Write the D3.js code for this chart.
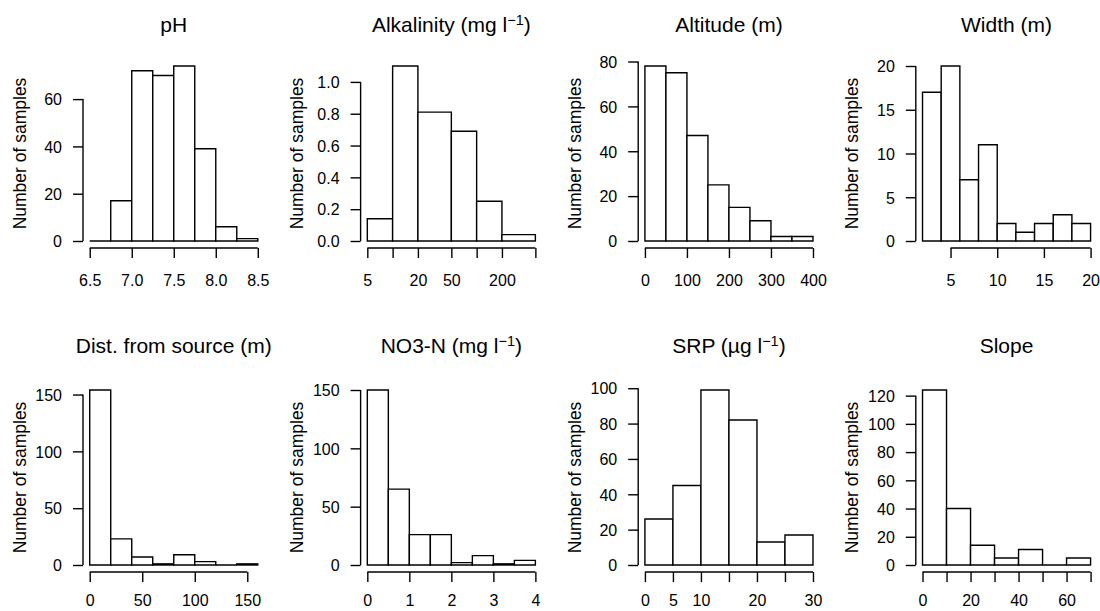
<!DOCTYPE html>
<html>
<head>
<meta charset="utf-8">
<script src="https://cdn.jsdelivr.net/npm/d3@7"></script>
<style>
  body { margin: 0; background: #fff; }
  svg { display: block; }
  text { font-family: "Liberation Sans", Arial, Helvetica, sans-serif; fill: #000; }
</style>
</head>
<body>
<svg id="chart" width="1100" height="611"></svg>
<script>
// ---- Histogram data: bin edges, bar heights and axis ticks per variable ----
const phBreaks = [6.5, 6.75, 7.0, 7.25, 7.5, 7.75, 8.0, 8.25, 8.5];
const phCounts = [0, 17, 72, 70, 74, 39, 6, 1];
const phXTicks = [6.5, 7.0, 7.5, 8.0, 8.5];
const phXLabels = ["6.5", "7.0", "7.5", "8.0", "8.5"];
const phYTicks = [0, 20, 40, 60];

// alkalinity is binned on a log scale, so bar heights are densities
const alkBreaks = [5, 10, 20, 50, 100, 200, 500];
const alkDensity = [0.14, 1.10, 0.81, 0.69, 0.25, 0.04];
const alkXTicks = [5, 10, 20, 50, 100, 200, 500];
const alkXLabels = ["5", "", "20", "50", "", "200", ""];
const alkYTicks = [0, 0.2, 0.4, 0.6, 0.8, 1.0];
const alkYLabels = ["0.0", "0.2", "0.4", "0.6", "0.8", "1.0"];

const altBreaks = [0, 50, 100, 150, 200, 250, 300, 350, 400];
const altCounts = [78, 75, 47, 25, 15, 9, 2, 2];
const altXTicks = [0, 100, 200, 300, 400];
const altYTicks = [0, 20, 40, 60, 80];

const widthBreaks = [2, 4, 6, 8, 10, 12, 14, 16, 18, 20];
const widthCounts = [17, 20, 7, 11, 2, 1, 2, 3, 2];
const widthXTicks = [5, 10, 15, 20];
const widthYTicks = [0, 5, 10, 15, 20];

const distBreaks = [0, 20, 40, 60, 80, 100, 120, 140, 160];
const distCounts = [154, 23, 7, 1, 9, 3, 0, 1];
const distXTicks = [0, 50, 100, 150];
const distYTicks = [0, 50, 100, 150];

const no3Breaks = [0, 0.5, 1, 1.5, 2, 2.5, 3, 3.5, 4];
const no3Counts = [150, 65, 26, 26, 2, 8, 1, 4];
const no3XTicks = [0, 1, 2, 3, 4];
const no3YTicks = [0, 50, 100, 150];

const srpBreaks = [0, 5, 10, 15, 20, 25, 30];
const srpCounts = [26, 45, 99, 82, 13, 17];
const srpXTicks = [0, 5, 10, 15, 20, 25, 30];
const srpXLabels = ["0", "5", "10", "", "20", "", "30"];
const srpYTicks = [0, 20, 40, 60, 80, 100];

const slopeBreaks = [0, 10, 20, 30, 40, 50, 60, 70];
const slopeCounts = [124, 40, 14, 5, 11, 0, 5];
const slopeXTicks = [0, 10, 20, 30, 40, 50, 60, 70];
const slopeXLabels = ["0", "", "20", "", "40", "", "60", ""];
const slopeYTicks = [0, 20, 40, 60, 80, 100, 120];

const yTitle = "Number of samples";

// panel titles; entries flagged sup are drawn as superscripts
const panels = [
  { title: [["pH"]], breaks: phBreaks, heights: phCounts, xTicks: phXTicks, xLabels: phXLabels, yTicks: phYTicks },
  { title: [["Alkalinity (mg l"], ["\u22121", true], [")"]], breaks: alkBreaks, heights: alkDensity, log: true,
    xTicks: alkXTicks, xLabels: alkXLabels, yTicks: alkYTicks, yLabels: alkYLabels },
  { title: [["Altitude (m)"]], breaks: altBreaks, heights: altCounts, xTicks: altXTicks, yTicks: altYTicks },
  { title: [["Width (m)"]], breaks: widthBreaks, heights: widthCounts, xTicks: widthXTicks, yTicks: widthYTicks },
  { title: [["Dist. from source (m)"]], breaks: distBreaks, heights: distCounts, xTicks: distXTicks, yTicks: distYTicks },
  { title: [["NO3-N (mg l"], ["\u22121", true], [")"]], breaks: no3Breaks, heights: no3Counts, xTicks: no3XTicks, yTicks: no3YTicks },
  { title: [["SRP (\u00b5g l"], ["\u22121", true], [")"]], breaks: srpBreaks, heights: srpCounts, xTicks: srpXTicks, xLabels: srpXLabels, yTicks: srpYTicks },
  { title: [["Slope"]], breaks: slopeBreaks, heights: slopeCounts, xTicks: slopeXTicks, xLabels: slopeXLabels, yTicks: slopeYTicks }
];

// ---- Layout ----
const colLeft = i => 83 + 277.6 * i;
const plotW = 181.5;
const rows = [
  { top: 59,  bottom: 248, titleY: 32,  tickY: 286 },
  { top: 383, bottom: 572, titleY: 353, tickY: 606 }
];
const PAD = 0.04;        // axis range extension on each side
const TICK = 10;
const LW = 1.4;
const FS_TICK = 16, FS_LAB = 17.5, FS_MAIN = 21;

const svg = d3.select("#chart");

panels.forEach((p, idx) => {
  const row = rows[Math.floor(idx / 4)];
  const left = colLeft(idx % 4), right = left + plotW;
  const g = svg.append("g");

  // x scale (linear or log), range padded by 4% on each side
  const bMin = p.breaks[0], bMax = p.breaks[p.breaks.length - 1];
  let x;
  if (p.log) {
    const span = Math.log10(bMax / bMin);
    const f = Math.pow(10, PAD * span);
    x = d3.scaleLog().domain([bMin / f, bMax * f]).range([left, right]);
  } else {
    const d = bMax - bMin;
    x = d3.scaleLinear().domain([bMin - PAD * d, bMax + PAD * d]).range([left, right]);
  }
  const yMax = d3.max(p.heights);
  const y = d3.scaleLinear().domain([-PAD * yMax, yMax * (1 + PAD)]).range([row.bottom, row.top]);

  // bars (paths, so empty bins still show as a flat line)
  g.selectAll("path.bar")
    .data(p.heights.map((h, i) => ({ x0: p.breaks[i], x1: p.breaks[i + 1], h })))
    .join("path")
    .attr("class", "bar")
    .attr("d", d => {
      const a = x(d.x0), b = x(d.x1), y0 = y(0), y1 = y(d.h);
      return `M${a},${y0}V${y1}H${b}V${y0}Z`;
    })
    .attr("fill", "#fff")
    .attr("stroke", "#000")
    .attr("stroke-width", LW);

  // bottom axis
  const xl = p.xLabels;
  const xAxis = d3.axisBottom(x)
    .tickValues(p.xTicks)
    .tickSize(TICK)
    .tickSizeOuter(0)
    .tickFormat((v, i) => xl ? xl[i] : String(v));
  const gx = g.append("g").attr("transform", `translate(0,${row.bottom})`).call(xAxis);
  gx.select(".domain").remove();
  gx.append("line")
    .attr("x1", x(p.xTicks[0])).attr("x2", x(p.xTicks[p.xTicks.length - 1]))
    .attr("stroke", "#000").attr("stroke-width", LW);
  gx.selectAll(".tick line").attr("stroke", "#000").attr("stroke-width", LW);
  gx.selectAll(".tick text")
    .attr("y", row.tickY - row.bottom).attr("dy", 0)
    .style("font-size", FS_TICK + "px").attr("font-family", null);

  // left axis
  const yl = p.yLabels;
  const yAxis = d3.axisLeft(y)
    .tickValues(p.yTicks)
    .tickSize(TICK)
    .tickSizeOuter(0)
    .tickPadding(11)
    .tickFormat((v, i) => yl ? yl[i] : String(v));
  const gy = g.append("g").attr("transform", `translate(${left},0)`).call(yAxis);
  gy.select(".domain").remove();
  gy.append("line")
    .attr("y1", y(p.yTicks[0])).attr("y2", y(p.yTicks[p.yTicks.length - 1]))
    .attr("stroke", "#000").attr("stroke-width", LW);
  gy.selectAll(".tick line").attr("stroke", "#000").attr("stroke-width", LW);
  gy.selectAll(".tick text")
    .attr("dy", "0.36em")
    .style("font-size", FS_TICK + "px").attr("font-family", null);

  // y axis title
  g.append("text")
    .attr("transform", `translate(${left - 57.5},${(row.top + row.bottom) / 2}) rotate(-90)`)
    .attr("text-anchor", "middle")
    .style("font-size", FS_LAB + "px")
    .text(yTitle);

  // panel title with optional superscript
  const t = g.append("text")
    .attr("x", (left + right) / 2)
    .attr("y", row.titleY)
    .attr("text-anchor", "middle")
    .style("font-size", FS_MAIN + "px");
  let raised = false;
  p.title.forEach(([s, sup]) => {
    const ts = t.append("tspan").text(s);
    if (sup) { ts.attr("dy", -7.5).style("font-size", "14.5px"); raised = true; }
    else if (raised) { ts.attr("dy", 7.5); raised = false; }
  });
});
</script>
</body>
</html>
